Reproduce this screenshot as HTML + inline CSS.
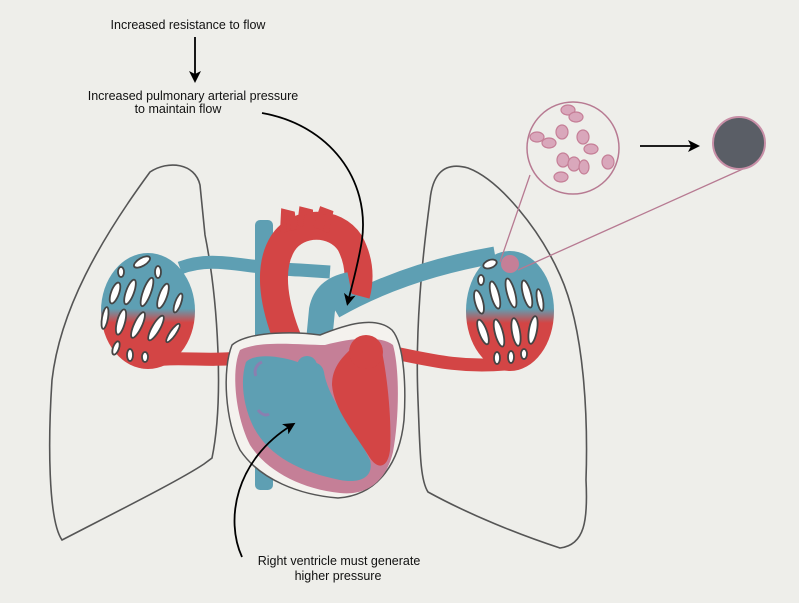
<!DOCTYPE html>
<html><head><meta charset="utf-8"><style>
html,body{margin:0;padding:0;background:#eeeeea;}
svg{display:block}
text{font-family:"Liberation Sans",sans-serif;font-size:12.5px;fill:#111;}
</style></head><body>
<svg width="799" height="603" viewBox="0 0 799 603" xmlns="http://www.w3.org/2000/svg">
<defs>
<linearGradient id="gl" x1="0" y1="0" x2="0" y2="1">
<stop offset="0" stop-color="#5e9fb3"/><stop offset="0.48" stop-color="#5e9fb3"/><stop offset="0.6" stop-color="#d34545"/><stop offset="1" stop-color="#d34545"/>
</linearGradient>
<marker id="ah" markerWidth="12" markerHeight="12" refX="8" refY="6" orient="auto" markerUnits="userSpaceOnUse">
<path d="M0,0 L12,6 L0,12 L3,6 Z" fill="#000"/></marker>
</defs>
<rect width="799" height="603" fill="#eeeeea"/>

<!-- lungs -->
<path d="M150,172 C168,160 195,163 200,185 L205,235 C218,300 224,400 212,458 L204,464 C180,480 120,510 62,540 C48,520 48,440 52,380 C60,310 100,240 150,172 Z" fill="none" stroke="#555" stroke-width="1.6"/>
<path d="M468,168 C440,160 432,180 430,200 C422,260 415,330 418,400 C420,450 420,480 428,492 C470,515 520,535 560,548 C585,545 588,520 586,480 C588,420 585,330 560,275 C540,230 500,180 468,168 Z" fill="none" stroke="#555" stroke-width="1.6"/>

<!-- vena cava -->
<rect x="255" y="220" width="18" height="270" rx="5" fill="#5e9fb3"/>

<!-- blue pulmonary arteries -->
<path d="M180,268 C215,255 240,268 300,270 L330,272" fill="none" stroke="#5e9fb3" stroke-width="13"/>
<path d="M335,310 C370,290 420,268 495,255" fill="none" stroke="#5e9fb3" stroke-width="17"/>
<!-- red veins -->
<path d="M140,362 C180,355 200,362 240,358" fill="none" stroke="#d34545" stroke-width="13"/>
<path d="M390,352 C430,360 460,368 505,364" fill="none" stroke="#d34545" stroke-width="13"/>

<!-- aorta -->
<path d="M288,340 C276,310 266,270 283,243 C298,220 335,220 350,243 C360,262 360,280 356,295" fill="none" stroke="#d34545" stroke-width="28"/>
<path d="M283,232 L284,212 L292,214 L294,230 M300,226 L302,210 L310,212 L310,226 M316,228 L322,210 L330,213 L326,232" fill="#d34545" stroke="#d34545" stroke-width="6"/>

<!-- pulmonary trunk -->
<path d="M318,352 L322,310 C325,295 335,288 350,285" fill="none" stroke="#5e9fb3" stroke-width="26"/>

<!-- heart -->
<path d="M232,345 C250,330 300,332 320,335 C345,325 375,315 392,330 C405,345 406,390 404,420 C400,460 380,495 338,498 C300,495 260,480 240,450 C225,420 222,370 232,345 Z" fill="#f4f2ee" stroke="#555" stroke-width="1.5"/>
<path d="M240,350 C260,340 300,345 325,345 C350,338 380,335 393,345 C400,370 399,420 393,452 C386,482 366,496 340,493 C300,489 266,470 250,445 C235,415 231,370 240,350 Z" fill="#c57f97"/>
<path d="M246,362 C256,352 285,357 300,363 C312,360 322,362 324,372 C328,400 356,430 370,460 C374,476 362,484 340,480 C300,472 268,456 253,426 C243,405 240,380 246,362 Z" fill="#5e9fb3"/>
<circle cx="307" cy="366" r="10" fill="#5e9fb3"/>
<path d="M332,385 C332,365 345,355 355,345 C360,335 380,338 382,352 C387,375 392,420 390,450 C388,468 378,470 370,458 C354,432 334,410 332,385 Z" fill="#d34545"/>
<circle cx="366" cy="352" r="17" fill="#d34545"/>
<path d="M262,362 C255,365 254,372 256,376" fill="none" stroke="#8a7fb0" stroke-width="3"/>
<path d="M258,410 C262,415 266,416 269,414" fill="none" stroke="#8a7fb0" stroke-width="3"/>

<!-- capillary beds -->
<ellipse cx="148" cy="311" rx="47" ry="58" fill="url(#gl)"/>
<g fill="#fff" stroke="#444" stroke-width="1.8">
<ellipse cx="142" cy="262" rx="9" ry="4" transform="rotate(-30 142 262)"/>
<ellipse cx="158" cy="272" rx="3" ry="6"/>
<ellipse cx="121" cy="272" rx="3" ry="5"/>
<ellipse cx="115" cy="293" rx="4" ry="11" transform="rotate(20 115 293)"/>
<ellipse cx="130" cy="292" rx="4" ry="13" transform="rotate(20 130 292)"/>
<ellipse cx="147" cy="292" rx="4" ry="15" transform="rotate(20 147 292)"/>
<ellipse cx="163" cy="296" rx="4" ry="13" transform="rotate(20 163 296)"/>
<ellipse cx="178" cy="303" rx="3" ry="10" transform="rotate(20 178 303)"/>
<ellipse cx="105" cy="318" rx="3" ry="11" transform="rotate(10 105 318)"/>
<ellipse cx="121" cy="322" rx="4" ry="13" transform="rotate(15 121 322)"/>
<ellipse cx="138" cy="325" rx="4" ry="14" transform="rotate(25 138 325)"/>
<ellipse cx="156" cy="328" rx="4" ry="14" transform="rotate(30 156 328)"/>
<ellipse cx="173" cy="333" rx="3" ry="11" transform="rotate(35 173 333)"/>
<ellipse cx="116" cy="348" rx="3" ry="7" transform="rotate(20 116 348)"/>
<ellipse cx="130" cy="355" rx="3" ry="6"/>
<ellipse cx="145" cy="357" rx="3" ry="5"/>
</g>
<ellipse cx="510" cy="311" rx="44" ry="60" fill="url(#gl)"/>
<g fill="#fff" stroke="#444" stroke-width="1.8">
<ellipse cx="490" cy="264" rx="7" ry="4" transform="rotate(-20 490 264)"/>
<ellipse cx="481" cy="280" rx="3" ry="5"/>
<ellipse cx="479" cy="302" rx="4" ry="12" transform="rotate(-15 479 302)"/>
<ellipse cx="495" cy="295" rx="4" ry="14" transform="rotate(-15 495 295)"/>
<ellipse cx="511" cy="293" rx="4" ry="15" transform="rotate(-15 511 293)"/>
<ellipse cx="527" cy="294" rx="4" ry="14" transform="rotate(-15 527 294)"/>
<ellipse cx="540" cy="300" rx="3" ry="11" transform="rotate(-10 540 300)"/>
<ellipse cx="483" cy="332" rx="4" ry="13" transform="rotate(-20 483 332)"/>
<ellipse cx="499" cy="333" rx="4" ry="14" transform="rotate(-15 499 333)"/>
<ellipse cx="516" cy="332" rx="4" ry="14" transform="rotate(-10 516 332)"/>
<ellipse cx="533" cy="330" rx="4" ry="14" transform="rotate(10 533 330)"/>
<ellipse cx="497" cy="358" rx="3" ry="6"/>
<ellipse cx="511" cy="357" rx="3" ry="6"/>
<ellipse cx="524" cy="354" rx="3" ry="5"/>
</g>

<!-- zoom -->
<circle cx="510" cy="264" r="9" fill="#c57f97"/>
<line x1="500" y1="262" x2="530" y2="175" stroke="#b77a92" stroke-width="1.3"/>
<line x1="518" y1="270" x2="745" y2="168" stroke="#b77a92" stroke-width="1.3"/>
<circle cx="573" cy="148" r="46" fill="#eeeeea" stroke="#b77a92" stroke-width="1.5"/>
<g fill="#d9a7bb" stroke="#c57f97" stroke-width="1.2">
<ellipse cx="568" cy="110" rx="7" ry="5"/><ellipse cx="576" cy="117" rx="7" ry="5"/>
<ellipse cx="537" cy="137" rx="7" ry="5"/><ellipse cx="549" cy="143" rx="7" ry="5"/>
<ellipse cx="562" cy="132" rx="6" ry="7"/>
<ellipse cx="583" cy="137" rx="6" ry="7"/><ellipse cx="591" cy="149" rx="7" ry="5"/>
<ellipse cx="563" cy="160" rx="6" ry="7"/><ellipse cx="574" cy="164" rx="6" ry="7"/><ellipse cx="584" cy="167" rx="5" ry="7"/>
<ellipse cx="608" cy="162" rx="6" ry="7"/>
<ellipse cx="561" cy="177" rx="7" ry="5"/>
</g>
<line x1="640" y1="146" x2="696" y2="146" stroke="#000" stroke-width="1.8" marker-end="url(#ah)"/>
<circle cx="739" cy="143" r="26" fill="#5a5e66" stroke="#c88fa7" stroke-width="2"/>

<!-- arrows -->
<line x1="195" y1="37" x2="195" y2="79" stroke="#000" stroke-width="1.8" marker-end="url(#ah)"/>
<path d="M262,113 C330,125 370,180 362,240 C358,265 352,285 348,302" fill="none" stroke="#000" stroke-width="1.8" marker-end="url(#ah)"/>
<path d="M242,557 C225,520 235,460 292,425" fill="none" stroke="#000" stroke-width="1.8" marker-end="url(#ah)"/>

<!-- text -->
<text x="188" y="29" text-anchor="middle">Increased resistance to flow</text>
<text x="193" y="100" text-anchor="middle">Increased pulmonary arterial pressure</text>
<text x="178" y="113" text-anchor="middle">to maintain flow</text>
<text x="339" y="565" text-anchor="middle">Right ventricle must generate</text>
<text x="338" y="580" text-anchor="middle">higher pressure</text>
</svg>
</body></html>
